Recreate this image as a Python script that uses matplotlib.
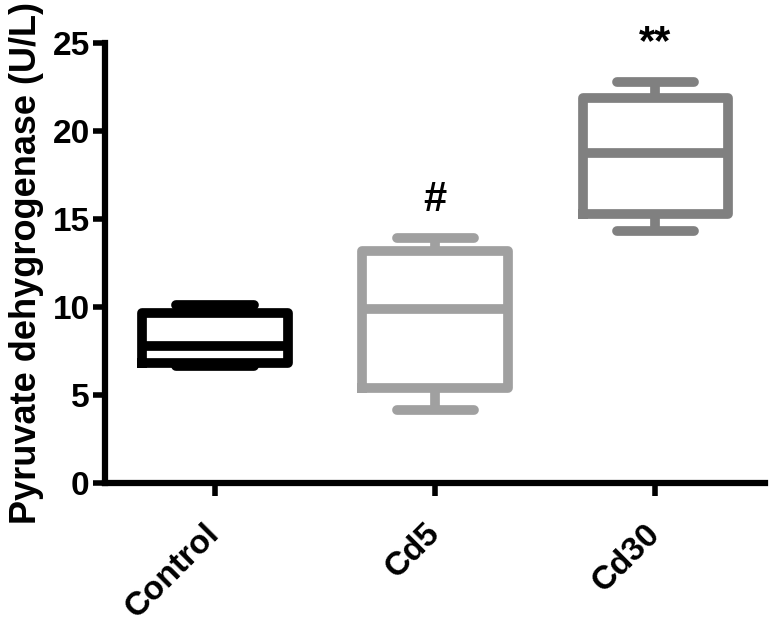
import numpy as np
import matplotlib.pyplot as plt
from matplotlib import rcParams

rcParams['font.family'] = ['Liberation Sans', 'DejaVu Sans']
rcParams['font.weight'] = 'bold'

groups = ['Control', 'Cd5', 'Cd30']
whisker_lo = [6.65, 4.15, 14.3]
q1 = [6.82, 5.4, 15.3]
medians = [7.78, 9.89, 18.75]
q3 = [9.66, 13.2, 21.9]
whisker_hi = [10.1, 13.9, 22.8]
colors = ['#000000', '#a0a0a0', '#808080']
marks = ['', '#', '**']
mark_y = [None, 16.1, 25.0]

fig = plt.figure(figsize=(7.69, 6.3), dpi=100)
ax = fig.add_axes([0.1365, 0.2333, 0.8585, 0.6984])

stats = []
for i, g in enumerate(groups):
    stats.append(dict(label=g, whislo=whisker_lo[i], q1=q1[i], med=medians[i],
                      q3=q3[i], whishi=whisker_hi[i], fliers=[]))

lw = 7
for i in range(len(groups)):
    c = colors[i]
    ax.bxp([stats[i]], positions=[i + 1], widths=0.66, capwidths=0.35,
           showfliers=False,
           boxprops=dict(color=c, linewidth=lw, solid_joinstyle='round'),
           medianprops=dict(color=c, linewidth=lw, solid_capstyle='butt'),
           whiskerprops=dict(color=c, linewidth=lw, solid_capstyle='butt'),
           capprops=dict(color=c, linewidth=lw, solid_capstyle='round'))

for i, m in enumerate(marks):
    if m:
        ax.text(i + 1, mark_y[i], m, ha='center', va='center', fontsize=30,
                fontweight='bold', clip_on=False)

ax.set_xlim(0.5, 3.5)
ax.set_ylim(0, 25)
ax.set_yticks([0, 5, 10, 15, 20, 25])
ax.set_xticks([1, 2, 3])
ax.set_xticklabels(groups, rotation=45, ha='right', va='center',
                   rotation_mode='anchor', fontsize=24, fontweight='bold')
ax.tick_params(axis='y', labelsize=24, width=4, length=9, pad=2)
ax.tick_params(axis='x', width=4, length=9, pad=24)
for lab in ax.get_yticklabels():
    lab.set_fontweight('bold')

ax.spines['top'].set_visible(False)
ax.spines['right'].set_visible(False)
ax.spines['left'].set_linewidth(4.5)
ax.spines['bottom'].set_linewidth(4.5)

ax.set_ylabel('Pyruvate dehygrogenase (U/L)', fontsize=26, fontweight='bold',
              labelpad=6)

fig.savefig('out.png', dpi=100)
